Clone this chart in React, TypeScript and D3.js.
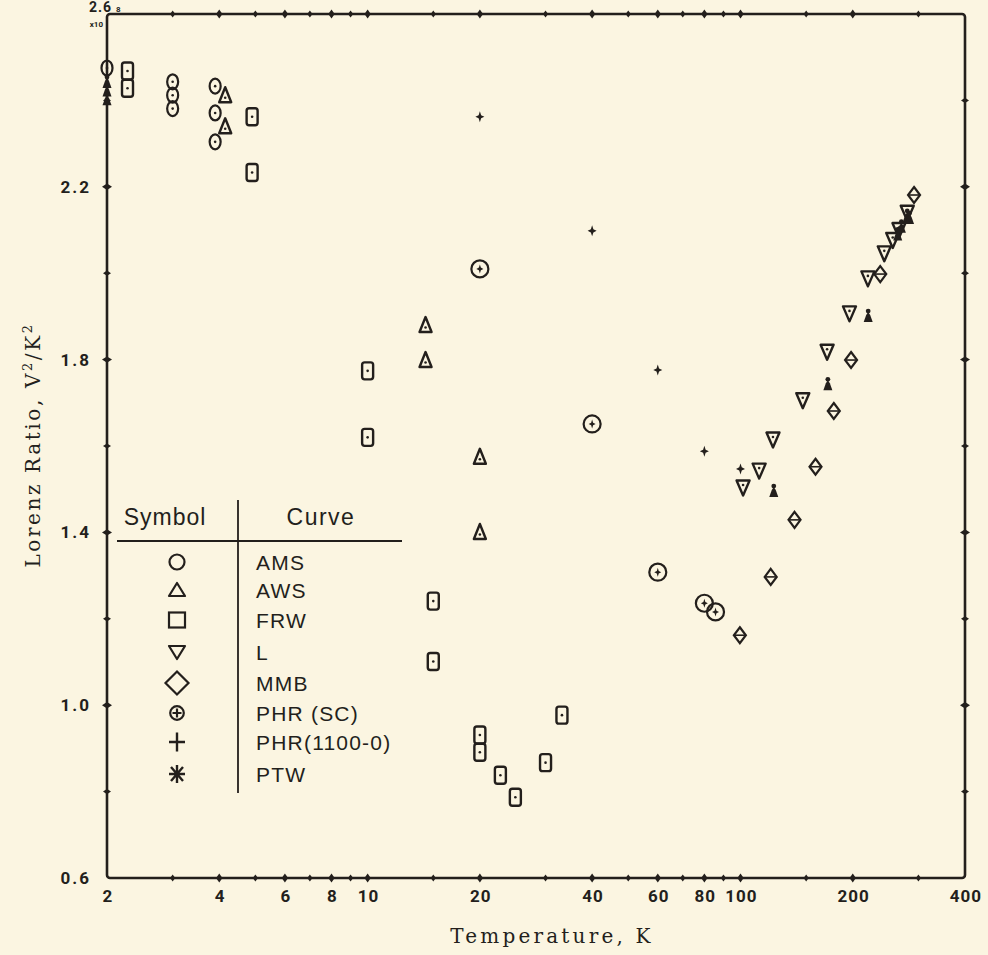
import React from "react";
import * as d3 from "d3";

// ---- data (temperature K, Lorenz ratio x1e-8 V^2/K^2) ----
const amsData: [number, number][] = [
  [2, 2.475], [3, 2.443], [3, 2.412], [3, 2.381],
  [3.9, 2.433], [3.9, 2.371], [3.9, 2.304],
];
const awsData: [number, number][] = [
  [4.15, 2.412], [4.15, 2.34], [14.3, 1.88], [14.3, 1.799], [20, 1.575], [20, 1.401],
];
const frwData: [number, number][] = [
  [2.27, 2.468], [2.27, 2.428], [4.9, 2.362], [4.9, 2.233],
  [10, 1.774], [10, 1.62], [15, 1.241], [15, 1.101],
  [20, 0.931], [20, 0.891], [22.7, 0.838], [24.9, 0.787], [30, 0.867], [33.2, 0.977],
];
const lData: [number, number][] = [
  [101.6, 1.504], [112.2, 1.543], [122.2, 1.615], [146.9, 1.706], [170.7, 1.818],
  [196, 1.907], [219.6, 1.988], [243, 2.046], [256, 2.077], [266, 2.1], [280, 2.14],
];
const mmbData: [number, number][] = [
  [99.6, 1.162], [120.5, 1.297], [139.6, 1.429], [158.9, 1.552], [177.9, 1.681],
  [197.9, 1.799], [237, 1.998], [292, 2.181],
];
const phrScData: [number, number][] = [
  [20, 2.01], [40, 1.651], [60, 1.308], [80, 1.236], [85.7, 1.216],
];
const phr1100Data: [number, number][] = [
  [20, 2.362], [40, 2.098], [60, 1.776], [80, 1.588], [100, 1.547],
];
const ptwData: [number, number][] = [
  [2, 2.445], [2, 2.425], [2, 2.405],
  [122.8, 1.498], [171.5, 1.745], [220, 1.903], [264, 2.092], [270, 2.11], [280, 2.135], [284, 2.13],
];

const xMajor = [2, 4, 6, 8, 10, 20, 40, 60, 80, 100, 200, 400];
const xMajorLabels = ["2", "4", "6", "8", "10", "20", "40", "60", "80", "100", "200", "400"];
const xMinor = [3, 5, 7, 9, 15, 30, 50, 70, 90, 150, 300];
const yMajor = [0.6, 1.0, 1.4, 1.8, 2.2];
const yMajorLabels = ["0.6", "1.0", "1.4", "1.8", "2.2"];
const yMinor = [0.8, 1.2, 1.6, 2.0, 2.4];
const yTopLabel = "2.6";

const legendSymbols = ["AMS", "AWS", "FRW", "L", "MMB", "PHR", "PHR1100", "PTW"];
const legendLabels = ["AMS", "AWS", "FRW", "L", "MMB", "PHR (SC)", "PHR(1100-0)", "PTW"];

const W = 988;
const H = 955;
const INK = "#231f1c";
const BG = "#fbf5e1";

const L = 107, R = 965, T = 14, B = 878;
const x = d3.scaleLog().domain([2, 400]).range([L, R]);
const y = d3.scaleLinear().domain([0.6, 2.6]).range([B, T]);

const star = (s: number, v = s) =>
  `M0,${-v} L${s * 0.28},${-v * 0.28} L${s},0 L${s * 0.28},${v * 0.28} L0,${v} L${-s * 0.28},${v * 0.28} L${-s},0 L${-s * 0.28},${-v * 0.28} Z`;

function Marker({ kind, cx, cy }: { kind: string; cx: number; cy: number }) {
  const dot = <circle cx={0} cy={0} r={1.3} fill={INK} />;
  let body: React.ReactNode = null;
  switch (kind) {
    case "AMS":
      body = (<><ellipse rx={5.5} ry={7.5} fill="none" stroke={INK} strokeWidth={2.2} />{dot}</>);
      break;
    case "AWS":
      body = (<><path d="M0,-8 L6,7 L-6,7 Z" fill="none" stroke={INK} strokeWidth={2.4} strokeLinejoin="round" /><circle cx={0} cy={2.5} r={1.3} fill={INK} /></>);
      break;
    case "FRW":
      body = (<><rect x={-5.5} y={-8.5} width={11} height={17} rx={2.5} fill="none" stroke={INK} strokeWidth={2.4} />{dot}</>);
      break;
    case "L":
      body = (<><path d="M-6.5,-7 L6.5,-7 L0,8 Z" fill="none" stroke={INK} strokeWidth={2.4} strokeLinejoin="round" /><circle cx={0} cy={-2.5} r={1.3} fill={INK} /></>);
      break;
    case "MMB":
      body = (<><path d="M0,-8 L6,0 L0,8 L-6,0 Z" fill="none" stroke={INK} strokeWidth={2.2} /><line x1={-5} x2={5} y1={0} y2={0} stroke={INK} strokeWidth={1.6} /></>);
      break;
    case "PHR":
      body = (<><circle r={8.5} fill="none" stroke={INK} strokeWidth={2.2} /><path d={star(3.5, 4.5)} fill={INK} /></>);
      break;
    case "PHR1100":
      body = <path d={star(4.5, 5.5)} fill={INK} />;
      break;
    case "PTW":
      body = (<><path d="M-4.5,7 L4.5,7 L2,0 L0,-3 L-2,0 Z" fill={INK} /><circle cx={0} cy={-4} r={2.4} fill={INK} /></>);
      break;
  }
  return <g transform={`translate(${cx},${cy})`}>{body}</g>;
}

function LegendSymbol({ kind, cx, cy }: { kind: string; cx: number; cy: number }) {
  const sw = 2.2;
  let body: React.ReactNode = null;
  switch (kind) {
    case "AMS": body = <circle r={7.5} fill="none" stroke={INK} strokeWidth={sw} />; break;
    case "AWS": body = <path d="M0,-7 L8,6 L-8,6 Z" fill="none" stroke={INK} strokeWidth={sw} strokeLinejoin="round" />; break;
    case "FRW": body = <rect x={-8} y={-7.5} width={16} height={15} fill="none" stroke={INK} strokeWidth={sw} />; break;
    case "L": body = <path d="M-8,-6 L8,-6 L0,7 Z" fill="none" stroke={INK} strokeWidth={sw} strokeLinejoin="round" />; break;
    case "MMB": body = <path d="M0,-11.5 L11.5,0 L0,11.5 L-11.5,0 Z" fill="none" stroke={INK} strokeWidth={sw} />; break;
    case "PHR": body = (<><circle r={6.8} fill="none" stroke={INK} strokeWidth={sw} /><path d="M-4.5,0 L4.5,0 M0,-4.5 L0,4.5" stroke={INK} strokeWidth={sw} /></>); break;
    case "PHR1100": body = <path d="M-8,0 L8,0 M0,-9.5 L0,9.5" stroke={INK} strokeWidth={2.4} />; break;
    case "PTW": body = <path d="M-8,0 L8,0 M0,-9 L0,9 M-6,-7 L6,7 M6,-7 L-6,7" stroke={INK} strokeWidth={2.4} />; break;
  }
  return <g transform={`translate(${cx},${cy})`}>{body}</g>;
}

const series: { kind: string; data: [number, number][] }[] = [
  { kind: "AMS", data: amsData },
  { kind: "AWS", data: awsData },
  { kind: "FRW", data: frwData },
  { kind: "L", data: lData },
  { kind: "MMB", data: mmbData },
  { kind: "PHR", data: phrScData },
  { kind: "PHR1100", data: phr1100Data },
  { kind: "PTW", data: ptwData },
];

const legendRowY = [562, 590, 620, 652, 683, 713, 742, 774];

export default function App() {
  const tickFont = { fontFamily: "Roboto, 'DejaVu Sans', sans-serif", fontWeight: 700, fontSize: 17, fill: INK, letterSpacing: 1 } as const;
  const hDiamond = (cx: number, cy: number, a: number, b: number) => `M${cx - a},${cy} L${cx},${cy - b} L${cx + a},${cy} L${cx},${cy + b} Z`;
  return (
    <svg width={W} height={H} style={{ position: "absolute", left: 0, top: 0 }}>
      <rect width={W} height={H} fill={BG} />
      {/* frame */}
      <rect x={L} y={T} width={R - L} height={B - T} fill="none" stroke={INK} strokeWidth={2.6} rx={3} />
      {/* x ticks bottom/top */}
      {xMajor.concat(xMinor).map((t, i) => {
        const big = i < xMajor.length;
        const a = big ? 3.2 : 2.6, b = big ? 4.5 : 3.5;
        return (
          <g key={"xt" + i}>
            {t > 2 && t < 400 && <path d={hDiamond(x(t), B, a, b)} fill={INK} />}
            {t > 2 && t < 400 && <path d={hDiamond(x(t), T, a, b)} fill={INK} />}
          </g>
        );
      })}
      {yMajor.concat(yMinor).map((v, i) => {
        const big = i < yMajor.length;
        const a = big ? 5 : 4, b = big ? 3.2 : 2.6;
        return (
          <g key={"yt" + i}>
            {v > 0.6 && v < 2.6 && <path d={hDiamond(L, y(v), a, b)} fill={INK} />}
            {v > 0.6 && v < 2.6 && <path d={hDiamond(R, y(v), a, b)} fill={INK} />}
          </g>
        );
      })}
      {/* x tick labels */}
      {xMajor.map((t, i) => (
        <text key={"xl" + i} x={x(t) + 1} y={B + 24} textAnchor="middle" {...tickFont}>{xMajorLabels[i]}</text>
      ))}
      {/* y tick labels */}
      {yMajor.map((v, i) => (
        <text key={"yl" + i} x={91} y={y(v) + 6} textAnchor="end" {...tickFont} letterSpacing={2}>{yMajorLabels[i]}</text>
      ))}
      <text x={112} y={12} textAnchor="end" fontFamily="Roboto, sans-serif" fontWeight={700} fontSize={14} letterSpacing={1} fill={INK}>{yTopLabel}</text>
      <text x={103} y={27} textAnchor="end" fontFamily="Roboto, sans-serif" fontWeight={700} fontSize={8} fill={INK}>x10</text>
      <text x={116} y={12} textAnchor="start" fontFamily="Roboto, sans-serif" fontWeight={700} fontSize={8} fill={INK}>8</text>
      {/* axis titles */}
      <text x={552} y={943} textAnchor="middle" fontFamily="'DejaVu Serif', 'Liberation Serif', serif" fontSize={20} letterSpacing={3.2} fill={INK}>Temperature, K</text>
      <text transform={`translate(40,${445}) rotate(-90)`} textAnchor="middle" fontFamily="'DejaVu Serif', 'Liberation Serif', serif" fontSize={20} letterSpacing={2.6} fill={INK}>
        Lorenz Ratio,  V<tspan fontSize={13} dy={-8}>2</tspan><tspan dy={8}>/K</tspan><tspan fontSize={13} dy={-8}>2</tspan>
      </text>
      {/* legend */}
      <g fontFamily="'Liberation Sans', Arial, sans-serif" fill={INK}>
        <text x={165} y={525} textAnchor="middle" fontSize={23} letterSpacing={1}>Symbol</text>
        <text x={321} y={525} textAnchor="middle" fontSize={23} letterSpacing={1.5}>Curve</text>
        <line x1={117} x2={402} y1={541} y2={541} stroke={INK} strokeWidth={1.8} />
        <line x1={238} x2={238} y1={500} y2={793} stroke={INK} strokeWidth={1.8} />
        {legendSymbols.map((k, i) => (
          <g key={"lg" + i}>
            <LegendSymbol kind={k} cx={177} cy={legendRowY[i]} />
            <text x={256} y={legendRowY[i] + 8} fontSize={21} letterSpacing={1.2}>{legendLabels[i]}</text>
          </g>
        ))}
      </g>
      {/* data */}
      {series.map((s) => (
        <g key={s.kind}>
          {s.data.map((d, i) => (
            <Marker key={i} kind={s.kind} cx={x(d[0])} cy={y(d[1])} />
          ))}
        </g>
      ))}
    </svg>
  );
}
